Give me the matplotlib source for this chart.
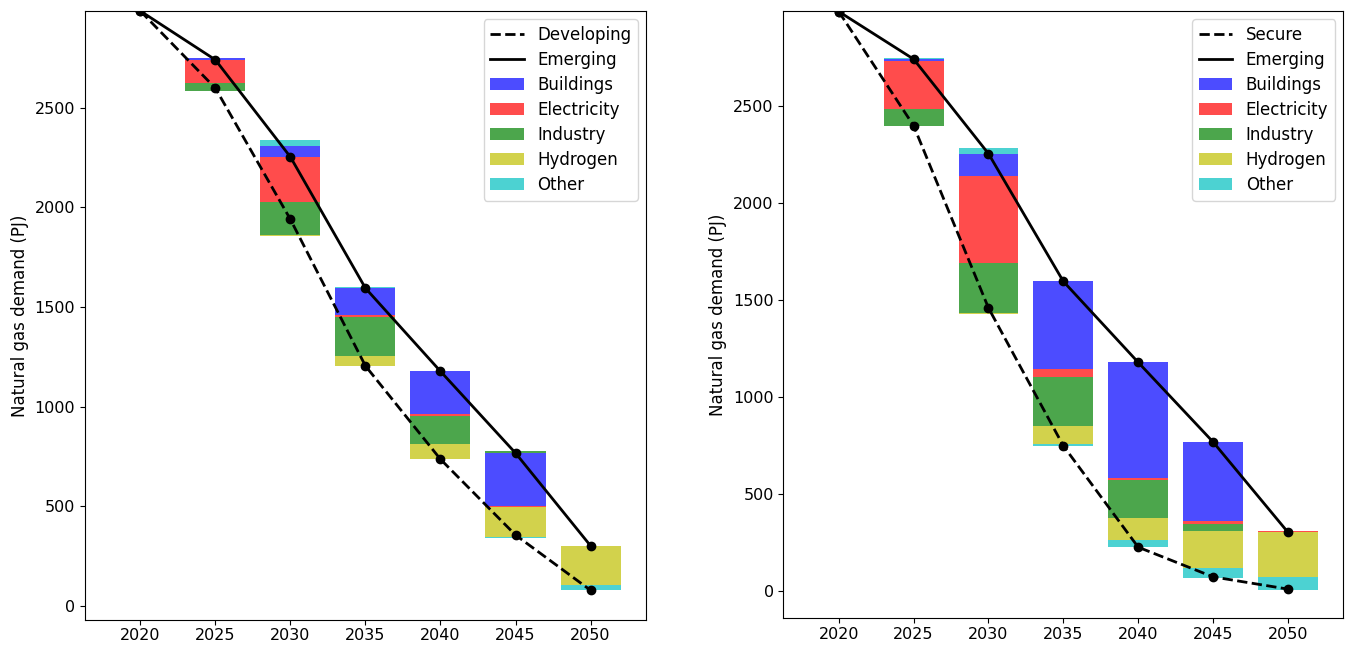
import numpy as np
import matplotlib.pyplot as plt
from matplotlib.lines import Line2D
from matplotlib.patches import Patch

# Dados (PJ)
years = [2020, 2025, 2030, 2035, 2040, 2045, 2050]
bar_years = [2025, 2030, 2035, 2040, 2045, 2050]

emerging = [2985, 2740, 2253, 1595, 1178, 768, 303]
developing = [2985, 2598, 1940, 1205, 737, 357, 80]
secure = [2985, 2397, 1458, 748, 226, 73, 10]

sectors = ["Buildings", "Electricity", "Industry", "Hydrogen", "Other"]
colors = ["b", "r", "g", "y", "c"]

# Variação por setor (Emerging -> cenário), 2025..2050
buildings_dev = [10, 54, -135, -216, -265, 0]
electricity_dev = [-118, -226, -10, -7, -8, 0]
industry_dev = [-37, -167, -197, -140, 10, 0]
hydrogen_dev = [0, -5, -50, -75, -147, -196]
other_dev = [0, 33, 4, -3, -4, -25]

buildings_sec = [-12, -113, -452, -594, -408, 2]
electricity_sec = [-243, -450, -40, -12, -13, 2]
industry_sec = [-91, -260, -254, -195, -39, 2]
hydrogen_sec = [0, -4, -93, -116, -187, -231]
other_sec = [5, 31, -7, -36, -52, -65]


def painel(ax, scen, scen_name, changes, ylim):
    """Desenha as barras empilhadas a partir da linha Emerging e as duas linhas."""
    base = np.array(emerging[1:], dtype=float)
    pos = base.copy()
    neg = base.copy()
    for name, c, vals in zip(sectors, colors, changes):
        vals = np.array(vals, dtype=float)
        bottom = np.where(vals >= 0, pos, neg)
        ax.bar(bar_years, vals, bottom=bottom, width=4, color=c, alpha=0.7,
               linewidth=0)
        pos = pos + np.clip(vals, 0, None)
        neg = neg + np.clip(vals, None, 0)

    ax.plot(years, scen, "k--", marker="o", lw=2, ms=6)
    ax.plot(years, emerging, "k-", marker="o", lw=2, ms=6)

    # Legenda sem marcadores
    handles = [Line2D([], [], color="k", ls="--", lw=2),
               Line2D([], [], color="k", ls="-", lw=2)]
    handles += [Patch(color=c, alpha=0.7, lw=0) for c in colors]
    ax.legend(handles, [scen_name, "Emerging"] + sectors, loc="upper right",
              labelspacing=0.42)

    ax.set_xticks(years)
    ax.set_xlim(2016.3, 2053.7)
    ax.set_ylim(ylim)
    ax.set_ylabel("Natural gas demand (PJ)")
    ax.tick_params(labelsize=11.5)
    ax.tick_params(axis="x", pad=2.5)


plt.rcParams["font.size"] = 12
fig = plt.figure(figsize=(13.46, 6.46), dpi=100)
ax1 = fig.add_axes([0.063, 0.040, 0.417, 0.943])
ax2 = fig.add_axes([0.582, 0.043, 0.416, 0.940])

painel(ax1, developing, "Developing",
       [buildings_dev, electricity_dev, industry_dev, hydrogen_dev, other_dev],
       (-70, 2985))
painel(ax2, secure, "Secure",
       [buildings_sec, electricity_sec, industry_sec, hydrogen_sec, other_sec],
       (-140, 2988))

plt.savefig("out.png")
